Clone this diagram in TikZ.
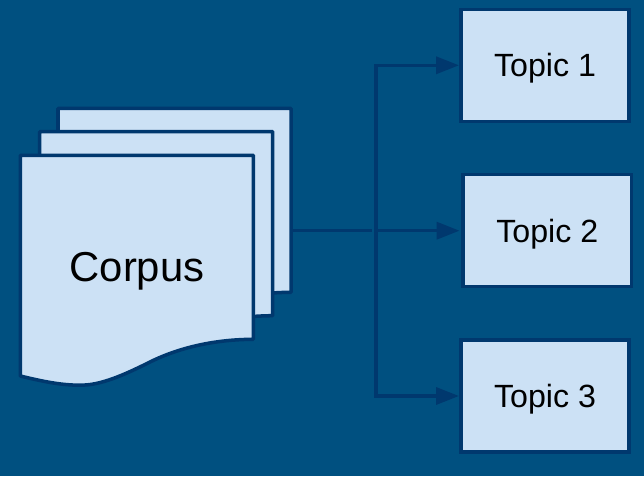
\documentclass[tikz,border=0pt]{standalone}
\usepackage{fontspec}
\setmainfont{Liberation Sans}
\usetikzlibrary{arrows.meta}

\definecolor{bgBlue}{RGB}{0,80,128}
\definecolor{paleBlue}{RGB}{204,225,245}
\definecolor{darkBlue}{RGB}{0,56,110}

\newcommand{\pageOutline}{(20.3,155.3) -- (253.3,155.3) -- (253.3,339.3)
    .. controls (205,339.5) and (170,352) .. (150,362)
    .. controls (130,372) and (105,384) .. (85,385)
    .. controls (65,386) and (45,382) .. (20.3,376) -- cycle}

\begin{document}
\begin{tikzpicture}[
        x=0.02cm,
        y=-0.02cm,
        pageSheet/.style={
            draw=darkBlue,
            fill=paleBlue,
            line width=2pt,
            line join=round
        },
        topicNode/.style={
            rectangle,
            draw=darkBlue,
            fill=paleBlue,
            line width=2pt,
            minimum width=3.37cm,
            minimum height=2.24cm,
            text depth=0pt,
            font=\fontsize{18.3}{22}\selectfont
        },
        corpusNode/.style={
            anchor=base,
            font=\fontsize{23.8}{28}\selectfont
        },
        line/.style={
            draw=darkBlue,
            line width=2pt,
            line cap=rect
        },
        arrowLine/.style={
            line,
            -{Triangle[length=13pt,width=9.6pt]}
        }
    ]
        \fill[bgBlue] (0,0) rectangle (644,476);

        \draw[pageSheet, shift={(37.7,-47)}] \pageOutline;
        \draw[pageSheet, shift={(19.4,-23.6)}] \pageOutline;
        \draw[pageSheet] \pageOutline;
        \node[corpusNode] (corpus) at (137,281) {Corpus};

        \node[topicNode] (topic1) at (545,65.3)  {Topic 1};
        \node[topicNode] (topic2) at (547.3,230.7) {Topic 2};
        \node[topicNode] (topic3) at (545,396)  {Topic 3};

        \coordinate (corpusOut) at (293,230.7);
        \coordinate (busIn) at (370.5,230.7);
        \coordinate (busOut) at (376,230.7);
        \coordinate (busTop) at (376,65.3);
        \coordinate (busBottom) at (376,396);

        \draw[line] (corpusOut) -- (busIn);
        \draw[line] (busTop) -- (busBottom);
        \draw[arrowLine] (busTop) -- (topic1.west);
        \draw[arrowLine, shorten >=1pt] (busOut) -- (topic2.west);
        \draw[arrowLine] (busBottom) -- (topic3.west);

    \end{tikzpicture}
\end{document}
